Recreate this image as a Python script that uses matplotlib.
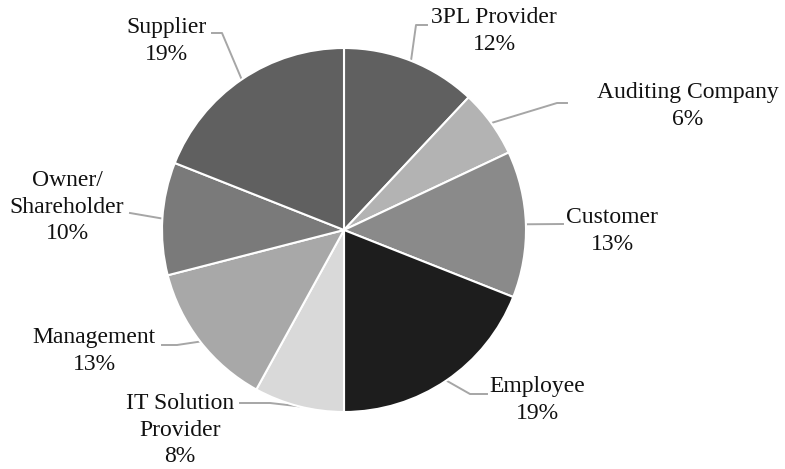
import numpy as np
import matplotlib.pyplot as plt

labels = ['3PL Provider', 'Auditing Company', 'Customer', 'Employee',
          'IT Solution\nProvider', 'Management', 'Owner/\nShareholder', 'Supplier']
shares = [12, 6, 13, 19, 8, 13, 10, 19]
colors = ['#606060', '#b3b3b3', '#8a8a8a', '#1d1d1d',
          '#d9d9d9', '#a8a8a8', '#7a7a7a', '#606060']

W, H = 785, 469
plt.rcParams['font.family'] = ['Liberation Serif', 'DejaVu Serif']

fig = plt.figure(figsize=(W / 100, H / 100), dpi=100)
ax = fig.add_axes([0, 0, 1, 1])

cx, cy, rad = 344, H - 230, 182
wedges, _ = ax.pie(shares, colors=colors, startangle=90, counterclock=False,
                   center=(cx, cy), radius=rad,
                   wedgeprops=dict(edgecolor='white', linewidth=1.5))

# label block centre and leader polyline (image pixel coords, y from top)
text_pos = [(494, 31), (688, 106), (612, 231), (537, 400),
            (180, 430), (94, 351), (67, 207), (166, 41)]
leaders = [[(416, 25), (427, 25)],
           [(557, 103), (567, 103)],
           [(563, 224)],
           [(470, 394), (487, 394)],
           [(270, 403), (240, 403)],
           [(177, 345), (162, 345)],
           [(130, 213)],
           [(222, 33), (212, 33)]]

for w, lab, s, tp, pts in zip(wedges, labels, shares, text_pos, leaders):
  mid = np.deg2rad((w.theta1 + w.theta2) / 2)
  ax_ = cx + rad * np.cos(mid)
  ay_ = cy + rad * np.sin(mid)
  xs = [ax_] + [p[0] for p in pts]
  ys = [ay_] + [H - p[1] for p in pts]
  ax.plot(xs, ys, color='#a6a6a6', lw=1.4, zorder=0.5)
  ax.text(tp[0], H - tp[1], f'{lab}\n{s}%', ha='center', va='center',
          fontsize=17, linespacing=1.35, color='#111111')

ax.set_xlim(0, W)
ax.set_ylim(0, H)
ax.set_aspect('auto')
ax.axis('off')

fig.savefig('out.png', dpi=100)
